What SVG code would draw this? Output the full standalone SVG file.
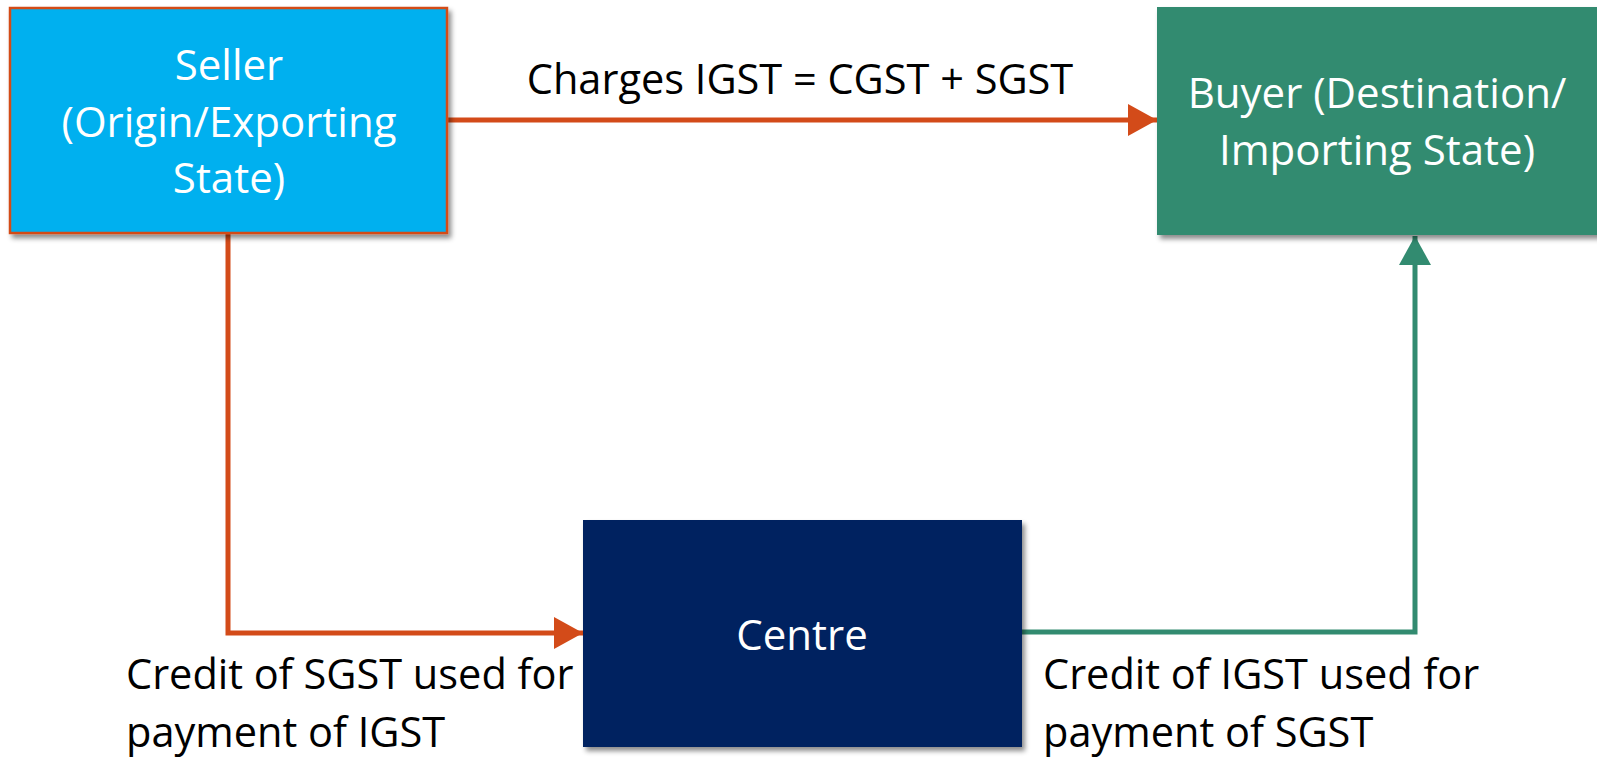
<svg xmlns="http://www.w3.org/2000/svg" width="1597" height="759" viewBox="0 0 1597 759">
<style>
.nt{font-family:"Open Sans","Noto Sans",sans-serif;font-size:42px;fill:#ffffff;text-anchor:middle}
.lb{font-family:"Open Sans","Noto Sans",sans-serif;font-size:41.5px;fill:#000000}
.or{fill:none;stroke:#D34B19;stroke-width:5}
.gr{fill:none;stroke:#328B70;stroke-width:5}
</style>
<defs>
<filter id="sh" x="-5%" y="-5%" width="115%" height="120%">
<feDropShadow dx="3" dy="4" stdDeviation="2.5" flood-color="#000" flood-opacity="0.45"/>
</filter>
<marker id="ao" markerUnits="userSpaceOnUse" markerWidth="30" markerHeight="32" refX="29" refY="16" orient="auto">
<path d="M0,0 L29,16 L0,32 Z" fill="#D34B19"/>
</marker>
<marker id="ag" markerUnits="userSpaceOnUse" markerWidth="30" markerHeight="32" refX="29" refY="16" orient="auto">
<path d="M0,0 L29,16 L0,32 Z" fill="#328B70"/>
</marker>
</defs>
<rect width="1597" height="759" fill="#ffffff"/>
<g id="connectors">
<line class="or" x1="447" y1="120" x2="1157" y2="120" marker-end="url(#ao)"/>
<polyline class="or" points="228,233 228,633 583,633" marker-end="url(#ao)"/>
<polyline class="gr" points="1022,632 1415,632 1415,236" marker-end="url(#ag)"/>
</g>
<g id="seller">
<rect x="10" y="8" width="437" height="225" fill="#06B0EF" stroke="#D34B19" stroke-width="2.5" filter="url(#sh)"/>
<text class="nt" x="229" y="80">Seller</text>
<text class="nt" x="229" y="137">(Origin/Exporting</text>
<text class="nt" x="229" y="193">State)</text>
</g>
<g id="buyer">
<rect x="1157" y="7" width="445" height="228" fill="#328B70" filter="url(#sh)"/>
<text class="nt" x="1377" y="108">Buyer (Destination/</text>
<text class="nt" x="1377" y="165">Importing State)</text>
</g>
<g id="centre">
<rect x="583" y="520" width="439" height="227" fill="#022060" filter="url(#sh)"/>
<text class="nt" x="802" y="650">Centre</text>
</g>
<g id="labels">
<text class="lb" x="800" y="94" text-anchor="middle">Charges IGST = CGST + SGST</text>
<text class="lb" x="126" y="689">Credit of SGST used for</text>
<text class="lb" x="126" y="747">payment of IGST</text>
<text class="lb" x="1043" y="689">Credit of IGST used for</text>
<text class="lb" x="1043" y="747">payment of SGST</text>
</g>
</svg>
